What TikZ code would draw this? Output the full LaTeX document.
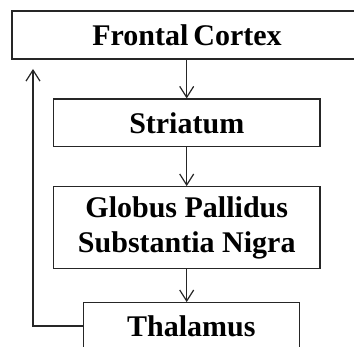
\documentclass[tikz,border=0pt]{standalone}
\usepackage{fontspec}
\setmainfont{Liberation Serif}
\usetikzlibrary{arrows.meta}
\begin{document}
\begin{tikzpicture}[x=1pt,y=1pt,
  box/.style={draw=black!85,line width=1.2pt,rectangle,inner sep=0pt,align=center,
    font=\fontsize{30}{35}\selectfont\bfseries},
  conn/.style={draw=black!85,line width=1.2pt,-{Straight Barb[length=11pt,width=14pt,line width=1.2pt]}}]
\useasboundingbox (0,0) rectangle (354,-347);
\clip (0,0) rectangle (354,-347);
\node[box,minimum width=350pt,minimum height=48pt] (fc) at (187,-35) {Frontal\,Cortex};
\node[box,minimum width=266.5pt,minimum height=47.7pt] (st) at (186.75,-122.9) {Striatum};
\node[box,minimum width=266.5pt,minimum height=81.6pt] (gp) at (186.75,-227.5) {Globus Pallidus\\Substantia Nigra};
\node[box,minimum width=215.8pt,minimum height=48pt] (th) at (191.4,-326.7) {Thalamus};
\coordinate (fb) at (33,-69);
\draw[conn] (fc.south -| 186.7,0) -- (st.north -| 186.7,0);
\draw[conn] (st.south -| 186.7,0) -- (gp.north -| 186.7,0);
\draw[conn] (gp.south -| 186.7,0) -- (th.north -| 186.7,0);
\draw[conn] (th.west |- 0,-326) -- (fb |- 0,-326) -- (fb);
\end{tikzpicture}
\end{document}
